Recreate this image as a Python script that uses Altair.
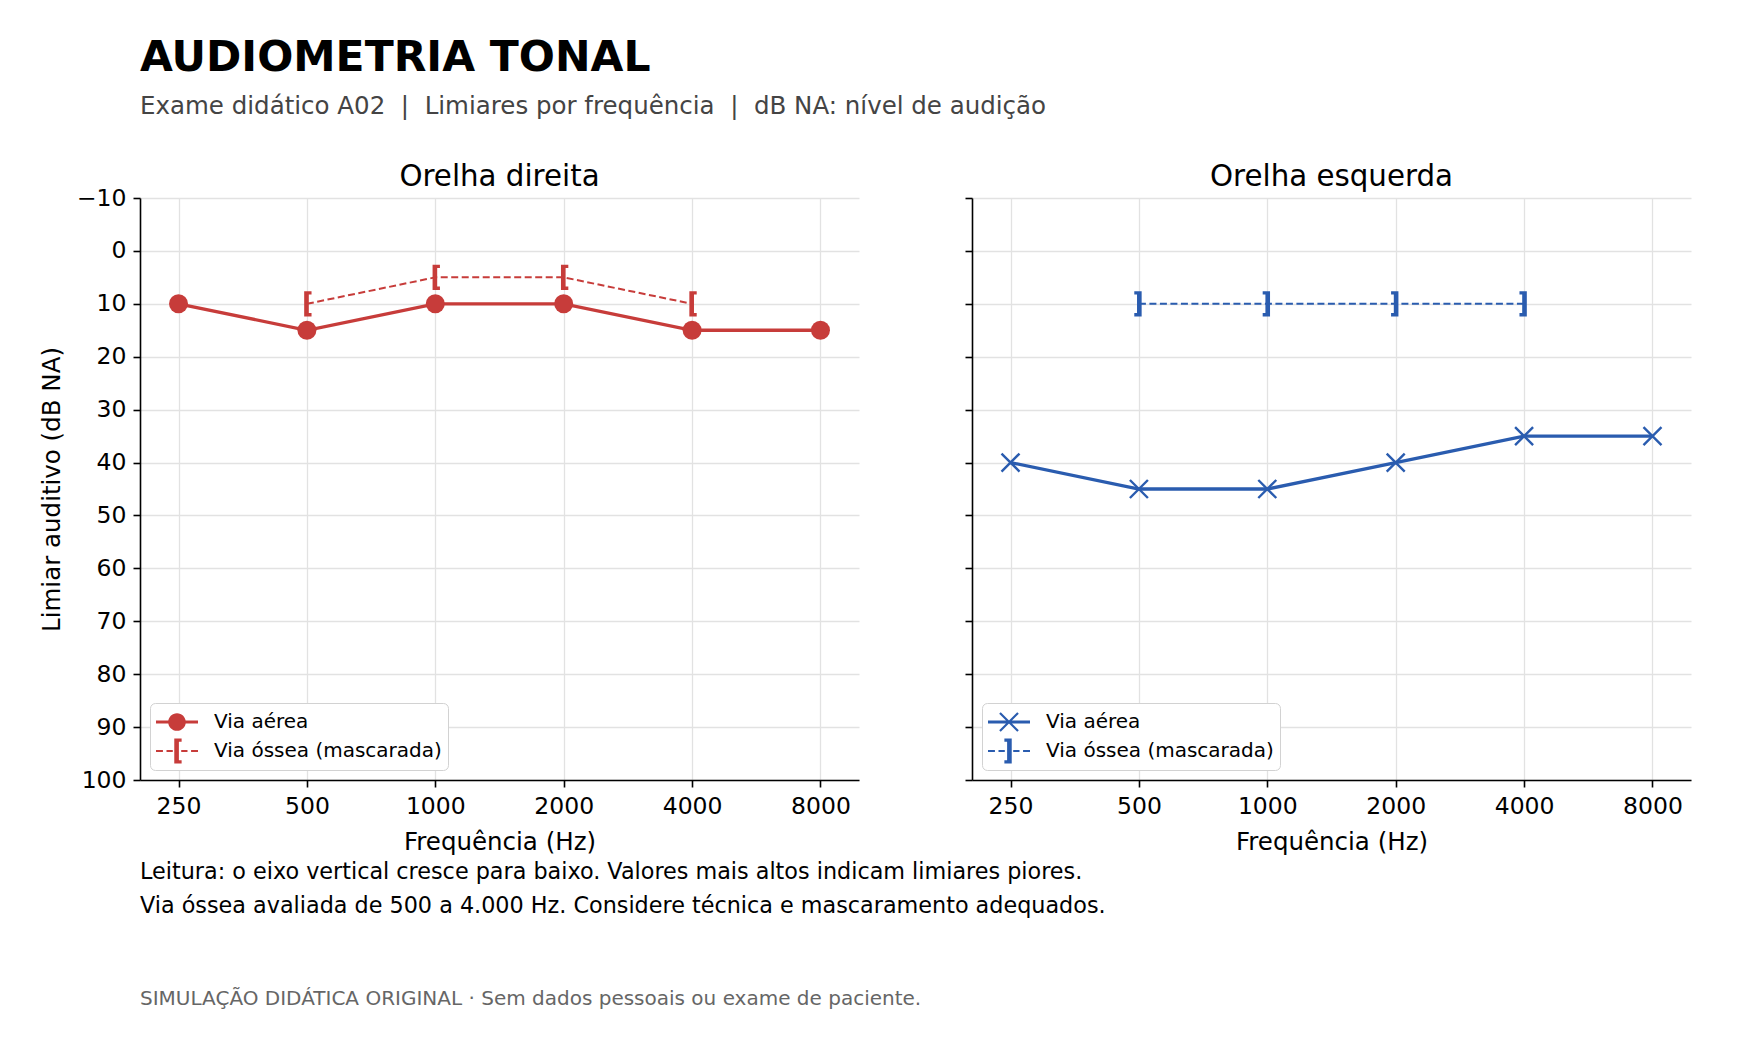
import re
import altair as alt
import pandas as pd

# ---------------- data ----------------
freqs = ["250", "500", "1000", "2000", "4000", "8000"]
bone_freqs = ["500", "1000", "2000", "4000"]
right_air = [10, 15, 10, 10, 15, 15]
right_bone = [10, 5, 5, 10]
left_air = [40, 45, 45, 40, 35, 35]
left_bone = [10, 10, 10, 10]
series = ["Via aérea", "Via óssea (mascarada)"]
ear_titles = ["Orelha direita", "Orelha esquerda"]
y_ticks = list(range(-10, 101, 10))

title_text = ["AUDIOMETRIA TONAL"]
subtitle_text = ["Exame didático A02 \u00a0|\u00a0 Limiares por frequência \u00a0|\u00a0 dB NA: nível de audição"]
note_lines = [
    "Leitura: o eixo vertical cresce para baixo. Valores mais altos indicam limiares piores.",
    "Via óssea avaliada de 500 a 4.000 Hz. Considere técnica e mascaramento adequados.",
]
footer_text = ["SIMULAÇÃO DIDÁTICA ORIGINAL · Sem dados pessoais ou exame de paciente."]

RED = "#c73c3a"
BLUE = "#2a5caf"
FONT = "DejaVu Sans"

# ---------------- marker / legend glyphs ----------------
BRACKET_L = "M-0.13,-0.6L0.22,-0.6L0.22,-0.44L0.09,-0.44L0.09,0.44L0.22,0.44L0.22,0.6L-0.13,0.6Z"
BRACKET_R = "M0.13,-0.6L0.13,0.6L-0.22,0.6L-0.22,0.44L-0.09,0.44L-0.09,-0.44L-0.22,-0.44L-0.22,-0.6Z"
X_STROKE = "M-1,-1L1,1M-1,1L1,-1"

K = 21 / 13  # legend glyphs drawn in a 26 px symbol box but spanning 42 px


def sc(path):
    return re.sub(r"-?\d+(?:\.\d+)?", lambda m: f"{float(m.group()) * K:.4f}", path)


def r(v):
    return f"{v * K:.4f}"


LEG_CIRCLE = (sc("M-1,-0.07L-0.3,-0.07L-0.3,0.07L-1,0.07Z"
                 "M0.3,-0.07L1,-0.07L1,0.07L0.3,0.07Z")
              + f"M{r(-0.42)},0A{r(0.42)},{r(0.42)},0,1,1,{r(0.42)},0"
              + f"A{r(0.42)},{r(0.42)},0,1,1,{r(-0.42)},0Z")
LEG_X = sc("M-1,-0.07L1,-0.07L1,0.07L-1,0.07Z"
           "M-0.393,-0.467L0.467,0.393L0.393,0.467L-0.467,-0.393Z"
           "M-0.393,0.467L-0.467,0.393L0.393,-0.467L0.467,-0.393Z")
DASHES = ("M-1,-0.05L-0.67,-0.05L-0.67,0.05L-1,0.05Z"
          "M-0.5,-0.05L-0.2,-0.05L-0.2,0.05L-0.5,0.05Z"
          "M0.2,-0.05L0.5,-0.05L0.5,0.05L0.2,0.05Z"
          "M0.67,-0.05L1,-0.05L1,0.05L0.67,0.05Z")
LEG_BONE_L = sc(DASHES + BRACKET_L)
LEG_BONE_R = sc(DASHES + BRACKET_R)

W, H = 719, 582


def panel(air_vals, bone_vals, color, title, show_y, air_kind, bone_path, leg_paths):
    air_df = pd.DataFrame({"freq": freqs, "db": air_vals})
    bone_df = pd.DataFrame({"freq": bone_freqs, "db": bone_vals})
    x = alt.X("freq:O", sort=freqs,
              scale=alt.Scale(type="point", padding=0.3),
              axis=alt.Axis(title="Frequência (Hz)", labelAngle=0, grid=True))
    yaxis = alt.Axis(values=y_ticks, format="d", grid=True, labels=show_y,
                     title="Limiar auditivo (dB NA)" if show_y else None)
    y = alt.Y("db:Q", scale=alt.Scale(domain=[-10, 100], reverse=True, nice=False, zero=False),
              axis=yaxis)

    air_base = alt.Chart(air_df).encode(x=x, y=y)
    bone_base = alt.Chart(bone_df).encode(x=x, y=y)

    air_line = air_base.mark_line(color=color, strokeWidth=3.3)
    if air_kind == "circle":
        air_pts = air_base.mark_circle(color=color, size=360, opacity=1)
    else:
        air_pts = air_base.mark_point(shape=X_STROKE, color=color, size=324,
                                      strokeWidth=2.4, filled=False, opacity=1)
    bone_line = bone_base.mark_line(color=color, strokeWidth=2, strokeDash=[7, 3.5])
    bone_pts = bone_base.mark_point(shape=bone_path, color=color, size=1764,
                                    filled=True, strokeWidth=0, opacity=1)

    leg = alt.Chart(pd.DataFrame({"serie": series})).transform_filter("false").mark_point(
        filled=True, color=color, opacity=1, strokeWidth=0
    ).encode(
        shape=alt.Shape("serie:N", scale=alt.Scale(domain=series, range=leg_paths),
                        legend=alt.Legend(title=None, orient="bottom-left", offset=10,
                                          symbolSize=676, symbolOffset=8, symbolFillColor=color,
                                          symbolStrokeWidth=0, symbolOpacity=1,
                                          labelFontSize=20, labelColor="black", labelFont=FONT,
                                          labelOffset=24, labelLimit=500, rowPadding=6,
                                          padding=6, strokeColor="#d2d2d2", fillColor="white",
                                          cornerRadius=5))
    )

    head = alt.Chart(pd.DataFrame({"t": [title]})).mark_text(
        align="center", baseline="middle", fontSize=29.3, color="black", font=FONT
    ).encode(text="t:N", x=alt.value(W / 2), y=alt.value(-21))

    layers = [air_line, bone_line, air_pts, bone_pts, leg, head]

    if show_y:
        t1 = alt.Chart(pd.DataFrame({"t": title_text})).mark_text(
            align="left", baseline="middle", fontSize=42.5, fontWeight="bold", color="black", font=FONT
        ).encode(text="t:N", x=alt.value(0), y=alt.value(-140))
        t2 = alt.Chart(pd.DataFrame({"t": subtitle_text})).mark_text(
            align="left", baseline="middle", fontSize=24.5, color="#444444", font=FONT
        ).encode(text="t:N", x=alt.value(0), y=alt.value(-91))
        n1 = alt.Chart(pd.DataFrame({"t": note_lines[:1]})).mark_text(
            align="left", baseline="middle", fontSize=22.3, color="black", font=FONT
        ).encode(text="t:N", x=alt.value(0), y=alt.value(674))
        n2 = alt.Chart(pd.DataFrame({"t": note_lines[1:]})).mark_text(
            align="left", baseline="middle", fontSize=22.3, color="black", font=FONT
        ).encode(text="t:N", x=alt.value(0), y=alt.value(708))
        f1 = alt.Chart(pd.DataFrame({"t": footer_text})).mark_text(
            align="left", baseline="middle", fontSize=20, color="#666666", font=FONT
        ).encode(text="t:N", x=alt.value(0), y=alt.value(801))
        layers += [t1, t2, n1, n2, f1]

    return alt.layer(*layers).properties(width=W, height=H)


left = panel(right_air, right_bone, RED, ear_titles[0], True, "circle", BRACKET_L,
             [LEG_CIRCLE, LEG_BONE_L])
right = panel(left_air, left_bone, BLUE, ear_titles[1], False, "x", BRACKET_R,
              [LEG_X, LEG_BONE_R])

chart = alt.hconcat(left, right, spacing=113, bounds="flush").resolve_scale(
    x="independent", y="independent", shape="independent"
).resolve_legend(shape="independent").properties(
    padding={"left": 31, "top": 29, "right": 10, "bottom": 10}
).configure(font=FONT).configure_axis(
    domainColor="black", domainWidth=1.6, tickColor="black", tickWidth=1.6, tickSize=7,
    labelFontSize=23.5, labelColor="black", labelPadding=7, labelFont=FONT,
    titleFontSize=24.5, titleFontWeight="normal", titleColor="black", titleFont=FONT,
    gridColor="#e2e2e2", gridWidth=1.3
).configure_axisX(titlePadding=13).configure_axisY(titlePadding=12).configure_view(
    stroke=None
)

chart.save("out.html", embed_options={"renderer": "svg", "actions": False})
